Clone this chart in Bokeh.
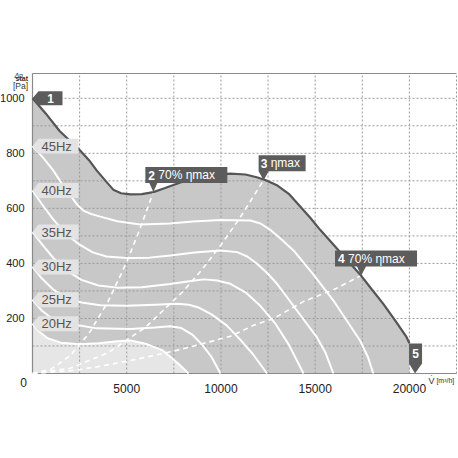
from bokeh.plotting import figure
from bokeh.models import FixedTicker
from bokeh.core.properties import value
from bokeh.embed import file_html
from bokeh.resources import INLINE

FONT = "Liberation Sans"

# ---------------- data ----------------
max_v = [0, 700, 1450, 2000, 2516, 3000, 3404, 3900, 4287, 4700, 5200, 5800, 6413, 7000, 7850,
         8800, 9700, 10500, 11300, 11900, 12350, 13000, 13600, 14206, 14750, 15265, 16000,
         16700, 17381, 18000, 18614, 19250, 19852, 20000]
max_p = [1000, 945, 880, 845, 811, 775, 738, 698, 668, 655, 651, 652, 659, 673, 694,
         712, 722, 726, 723, 713, 703, 683, 653, 607, 565, 522, 466,
         412, 360, 306, 253, 192, 132, 110]

hz_names = ["45Hz", "40Hz", "35Hz", "30Hz", "25Hz", "20Hz"]
hz45_v = [0, 550, 1100, 1700, 2391, 2700, 3100, 3600, 4500, 5700, 7300, 8500, 10000, 11561,
          12100, 12619, 13200, 13852, 14900, 15968, 16700, 17381, 17800, 18085]
hz45_p = [826, 785, 738, 675, 612, 592, 580, 570, 553, 541, 545, 552, 558, 556,
          545, 522, 488, 447, 360, 265, 190, 120, 60, 0]
hz40_v = [0, 500, 1100, 1800, 2500, 3200, 3930, 5000, 6200, 7323, 8600, 9974, 10857, 11400,
          11915, 12450, 12974, 13500, 14032, 14560, 15090, 15550, 15968]
hz40_p = [665, 615, 560, 505, 468, 440, 425, 420, 421, 429, 440, 447, 441, 425,
          399, 365, 326, 278, 229, 180, 132, 75, 0]
hz35_v = [0, 500, 1100, 1800, 2600, 3500, 4500, 5800, 7300, 8500, 9100, 9800, 10500, 11300,
          12100, 12900, 13600, 14381]
hz35_p = [514, 470, 420, 375, 340, 320, 312, 313, 325, 337, 342, 338, 326, 295,
          245, 180, 105, 0]
hz30_v = [0, 500, 1100, 1800, 2600, 3600, 5000, 6500, 7660, 8300, 8800, 9500, 10300, 11000,
          11700, 12444]
hz30_p = [387, 345, 305, 277, 258, 248, 246, 250, 253, 250, 240, 215, 175, 125, 70, 0]
hz25_v = [0, 500, 1100, 1800, 2516, 3400, 5200, 6500, 7300, 7900, 8500, 9000, 9500, 9974]
hz25_p = [268, 228, 197, 181, 174, 164, 162, 167, 172, 165, 140, 105, 60, 0]
hz20_v = [0, 300, 800, 1500, 2500, 3500, 4500, 5200, 6000, 6900, 7300, 7800, 8280]
hz20_p = [181, 155, 128, 112, 106, 110, 117, 120, 108, 84, 62, 32, 0]

eff2_v = [0, 1000, 2000, 3000, 4000, 5000, 5700, 6413]
eff2_p = [0, 16, 65, 146, 260, 405, 525, 659]
eff3_v = [0, 2000, 4000, 6000, 8000, 9000, 10000, 11000, 12265]
eff3_p = [0, 19, 75, 168, 299, 378, 467, 565, 702]
eff4_v = [0, 2000, 3400, 5200, 7660, 9000, 10500, 11734, 12800, 14394, 16000, 17434]
eff4_p = [0, 10, 24, 47, 84, 108, 135, 175, 200, 262, 305, 356]

marker_ids = ["1", "2", "3", "4", "5"]
marker_text = ["", "70% \u03b7max", "\u03b7max", "70% \u03b7max", ""]
marker_v = [0, 6413, 12265, 17434, 20300]
marker_p = [1000, 659, 702, 356, 0]

x_ticks = [5000, 10000, 15000, 20000]
y_ticks = [200, 400, 600, 800, 1000]
x_grid = [2500, 5000, 7500, 10000, 12500, 15000, 17500, 20000, 22500]
y_grid = [100, 200, 300, 400, 500, 600, 700, 800, 900, 1000]

# ---------------- styles / layout ----------------
XMAX, YMAX = 22500, 1090
PW, PH = 424, 300            # pixel size of the 0..XMAX x 0..YMAX area
LEFT, RIGHT, TOP, BOTTOM = 32, 1, 73, 30
DX = XMAX / PW
DY = YMAX / PH
W, H = LEFT + PW + RIGHT, TOP + PH + BOTTOM

GRAY_FILL = "#c8c8c8"
LIGHT_FILL = "#e6e6e6"
DARK = "#555555"
MARKER = "#5c5c5c"
HZ_BOX = "#e3e3e3"
HZ_TEXT = "#555555"
GRID = "#9a9a9a"
AXIS = "#8a8a8a"

p = figure(frame_width=W, frame_height=H,
           x_range=(-LEFT * DX, XMAX + RIGHT * DX), y_range=(-BOTTOM * DY, YMAX + TOP * DY),
           output_backend="svg", toolbar_location=None,
           min_border_left=0, min_border_right=0, min_border_top=0, min_border_bottom=0,
           background_fill_color="white", border_fill_color="white")
p.outline_line_color = None
p.xgrid.visible = False
p.ygrid.visible = False

# fills
p.patch(x=max_v + [max_v[-1], 0], y=max_p + [0, 0], fill_color=GRAY_FILL, line_color=None)
p.patch(x=[0] + hz20_v, y=[0] + hz20_p, fill_color=LIGHT_FILL, line_color=None)

# grid (dotted), limited to the chart area
p.multi_line(xs=[[g, g] for g in x_grid], ys=[[0, YMAX] for g in x_grid],
             line_color=GRID, line_width=1, line_dash="2 2", level="guide")
p.multi_line(xs=[[0, XMAX] for g in y_grid], ys=[[g, g] for g in y_grid],
             line_color=GRID, line_width=1, line_dash="2 2", level="guide")
p.line([0, XMAX], [YMAX, YMAX], line_color=AXIS, line_width=1.2, level="guide")

# efficiency lines (dashed)
for vv, pp in ((eff2_v, eff2_p), (eff3_v, eff3_p), (eff4_v, eff4_p)):
    p.line(vv, pp, line_color="white", line_width=1.6, line_dash="5 4", level="annotation")

# speed curves
for vv, pp in ((hz45_v, hz45_p), (hz40_v, hz40_p), (hz35_v, hz35_p),
               (hz30_v, hz30_p), (hz25_v, hz25_p), (hz20_v, hz20_p)):
    p.line(vv, pp, line_color="white", line_width=2, level="annotation")

# max curve
p.line(max_v, max_p, line_color=DARK, line_width=2.2, level="annotation")

# Hz labels (callouts pointing left to the curve start)
hz_starts = [hz45_p[0], hz40_p[0], hz35_p[0], hz30_p[0], hz25_p[0], hz20_p[0]]
hz_shape = [(0, 0), (6, -7.5), (46, -7.5), (46, 7.5), (6, 7.5)]
xs, ys = [], []
for s in hz_starts:
    xs.append([0 + dx * DX for dx, dy in hz_shape])
    ys.append([s - dy * DY for dx, dy in hz_shape])
p.patches(xs, ys, fill_color=HZ_BOX, line_color=None, level="overlay")
p.text(x=[0] * len(hz_starts), y=hz_starts, text=hz_names, x_offset=9,
       text_baseline="middle", text_align="left", text_color=HZ_TEXT,
       text_font=value(FONT), text_font_size="13px", level="overlay")

# numbered markers
m_shapes = [
    [(0, 0), (6, -7), (30, -7), (30, 7), (6, 7)],
    [(-8, -25), (74, -25), (74, -9), (4, -9), (0, 0), (-4, -9), (-8, -9)],
    [(-5, -25), (42, -25), (42, -9), (5, -9), (0, 0), (-5, -9)],
    [(-26, -25), (56, -25), (56, -9), (5, -9), (0, 0), (-4, -9), (-26, -9)],
    [(-6, -30), (7, -30), (7, -10), (0, 0), (-6, -10)],
]
id_off = [(18, 0, "center"), (-5, -17, "left"), (-3, -17, "left"), (-23, -17, "left"), (0.5, -20, "center")]
rest_dx = [0, 5, 7, -13, 0]

mxs, mys = [], []
for v, pp, shp in zip(marker_v, marker_p, m_shapes):
    mxs.append([v + dx * DX for dx, dy in shp])
    mys.append([pp - dy * DY for dx, dy in shp])
p.patches(mxs, mys, fill_color=MARKER, line_color=None, level="overlay")

for i in range(len(marker_ids)):
    dx, dy, al = id_off[i]
    p.text(x=[marker_v[i]], y=[marker_p[i]], text=[marker_ids[i]], x_offset=dx, y_offset=dy,
           text_align=al, text_baseline="middle", text_color="white",
           text_font=value(FONT), text_font_size="12px", text_font_style="bold", level="overlay")
    if marker_text[i]:
        p.text(x=[marker_v[i]], y=[marker_p[i]], text=[marker_text[i]], x_offset=rest_dx[i], y_offset=dy,
               text_align="left", text_baseline="middle", text_color="white",
               text_font=value(FONT), text_font_size="12px", level="overlay")

# axes, fixed at the origin
p.xaxis.ticker = FixedTicker(ticks=x_ticks)
p.yaxis.ticker = FixedTicker(ticks=y_ticks)
p.xaxis.fixed_location = 0
p.yaxis.fixed_location = 0
p.xaxis.bounds = (0, XMAX)
p.yaxis.bounds = (0, YMAX)
for ax, fs, so in ((p.xaxis, "12px", 4), (p.yaxis, "11px", 2)):
    ax.major_label_text_font = FONT
    ax.major_label_text_font_size = fs
    ax.major_label_text_color = "#222222"
    ax.major_tick_line_color = None
    ax.minor_tick_line_color = None
    ax.axis_line_color = AXIS
    ax.axis_line_width = 1.2
    ax.major_label_standoff = so

# axis titles / corner label
def txt(x, y, t, size, dx, dy, align="right", style="normal", color="#333333"):
    p.text(x=[x], y=[y], text=[t], x_offset=dx, y_offset=dy, text_align=align,
           text_baseline="middle", text_font=value(FONT), text_font_size=size,
           text_font_style=style, text_color=color, level="overlay")

txt(0, YMAX, "\u0394p", "7px", -9.5, 2, style="italic")
txt(0, YMAX, "stat", "7px", -4.5, 5, style="bold")
txt(0, YMAX, "[Pa]", "8.5px", -4.5, 12.5)
txt(0, 0, "0", "12px", -9, 9, align="center", color="#222222")
txt(x_ticks[-1], 0, "V\u0307", "9px", 19, 7, align="left")
txt(x_ticks[-1], 0, "[m\u00b3/h]", "7px", 27, 7, align="left")

open("out.html", "w").write(file_html(p, INLINE))
